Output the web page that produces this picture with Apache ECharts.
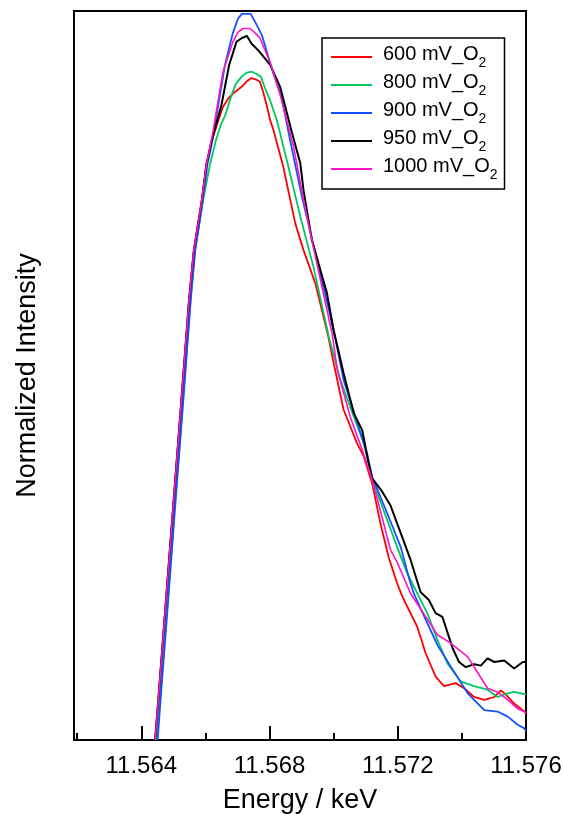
<!DOCTYPE html>
<html>
<head>
<meta charset="utf-8">
<script src="https://cdn.jsdelivr.net/npm/echarts@6/dist/echarts.min.js"></script>
<style>html,body{margin:0;padding:0;background:#fff;}#c{width:563px;height:814px;}</style>
</head>
<body>
<div id="c"></div>
<script>
// Series names (legend order)
const seriesNames = ['600 mV_O2', '800 mV_O2', '900 mV_O2', '950 mV_O2', '1000 mV_O2'];
// Tick labels (keV)
const majorTicks = [11.564, 11.568, 11.572, 11.576];
const minorTicks = [11.562, 11.566, 11.570, 11.574];

// [energy keV, normalized intensity]
const red600 = [
  [11.56443,0],[11.56453,0.055],[11.56477,0.192],[11.56501,0.329],[11.56525,0.466],[11.56549,0.604],
  [11.56564,0.672],[11.56589,0.741],[11.56603,0.789],[11.56620,0.823],[11.56626,0.830],[11.56639,0.848],
  [11.56654,0.868],[11.56673,0.881],[11.56692,0.889],[11.56713,0.896],[11.56730,0.904],[11.56744,0.908],
  [11.56758,0.906],[11.56770,0.903],[11.56780,0.889],[11.56791,0.871],[11.56802,0.850],[11.56812,0.837],
  [11.56843,0.786],[11.56880,0.709],[11.56906,0.672],[11.56943,0.626],[11.56982,0.556],[11.57000,0.517],
  [11.57031,0.453],[11.57073,0.407],[11.57094,0.389],[11.57120,0.352],[11.57146,0.297],[11.57172,0.250],
  [11.57198,0.215],[11.57214,0.197],[11.57261,0.155],[11.57287,0.119],[11.57318,0.087],[11.57344,0.074],
  [11.57381,0.078],[11.57407,0.071],[11.57438,0.059],[11.57470,0.055],[11.57501,0.059],[11.57522,0.068],
  [11.57538,0.062],[11.57563,0.050],[11.57595,0.039],[11.57600,0.036]
];
const green800 = [
  [11.56448,0],[11.56458,0.055],[11.56482,0.192],[11.56506,0.329],[11.56530,0.466],[11.56554,0.604],
  [11.56568,0.672],[11.56593,0.741],[11.56614,0.789],[11.56633,0.823],[11.56648,0.844],[11.56661,0.856],
  [11.56682,0.885],[11.56695,0.900],[11.56713,0.910],[11.56727,0.915],[11.56744,0.917],[11.56758,0.914],
  [11.56773,0.910],[11.56786,0.894],[11.56802,0.877],[11.56823,0.850],[11.56859,0.786],[11.56896,0.718],
  [11.56937,0.649],[11.56986,0.551],[11.57021,0.494],[11.57063,0.443],[11.57094,0.407],[11.57120,0.357],
  [11.57156,0.315],[11.57198,0.265],[11.57228,0.230],[11.57261,0.201],[11.57292,0.174],[11.57324,0.137],
  [11.57355,0.105],[11.57397,0.080],[11.57438,0.074],[11.57480,0.069],[11.57511,0.059],[11.57543,0.064],
  [11.57563,0.066],[11.57595,0.063],[11.57600,0.063]
];
const blue900 = [
  [11.56451,0],[11.56460,0.055],[11.56484,0.192],[11.56507,0.329],[11.56531,0.466],[11.56554,0.604],
  [11.56568,0.672],[11.56592,0.741],[11.56606,0.789],[11.56622,0.823],[11.56640,0.871],[11.56661,0.926],
  [11.56685,0.969],[11.56702,0.990],[11.56714,0.996],[11.56741,0.996],[11.56755,0.985],[11.56776,0.967],
  [11.56807,0.921],[11.56838,0.881],[11.56864,0.823],[11.56901,0.745],[11.56943,0.668],[11.56990,0.581],
  [11.57011,0.538],[11.57031,0.494],[11.57068,0.443],[11.57104,0.393],[11.57120,0.361],[11.57167,0.311],
  [11.57209,0.265],[11.57235,0.222],[11.57250,0.201],[11.57287,0.165],[11.57324,0.130],[11.57365,0.101],
  [11.57418,0.064],[11.57470,0.041],[11.57511,0.039],[11.57543,0.032],[11.57574,0.021],[11.57595,0.016],
  [11.57600,0.012]
];
const black950 = [
  [11.56443,0],[11.56453,0.055],[11.56477,0.192],[11.56501,0.329],[11.56525,0.466],[11.56549,0.604],
  [11.56564,0.672],[11.56589,0.741],[11.56603,0.789],[11.56620,0.823],[11.56650,0.871],[11.56674,0.926],
  [11.56697,0.958],[11.56714,0.963],[11.56729,0.966],[11.56744,0.955],[11.56765,0.946],[11.56802,0.926],
  [11.56833,0.896],[11.56870,0.833],[11.56896,0.791],[11.56906,0.754],[11.56932,0.686],[11.56979,0.613],
  [11.57000,0.562],[11.57031,0.503],[11.57063,0.448],[11.57089,0.425],[11.57109,0.380],[11.57120,0.359],
  [11.57151,0.341],[11.57177,0.322],[11.57209,0.284],[11.57240,0.247],[11.57271,0.203],[11.57297,0.192],
  [11.57318,0.174],[11.57339,0.169],[11.57371,0.126],[11.57391,0.107],[11.57412,0.100],[11.57438,0.104],
  [11.57459,0.102],[11.57480,0.112],[11.57501,0.107],[11.57532,0.109],[11.57563,0.098],[11.57590,0.107],
  [11.57600,0.107]
];
const magenta1000 = [
  [11.56443,0],[11.56453,0.055],[11.56477,0.192],[11.56501,0.329],[11.56525,0.466],[11.56549,0.604],
  [11.56564,0.672],[11.56589,0.741],[11.56603,0.789],[11.56623,0.833],[11.56655,0.917],[11.56686,0.958],
  [11.56702,0.971],[11.56717,0.976],[11.56739,0.976],[11.56755,0.970],[11.56770,0.963],[11.56802,0.929],
  [11.56833,0.885],[11.56875,0.814],[11.56906,0.741],[11.56943,0.663],[11.56995,0.558],[11.57011,0.508],
  [11.57052,0.443],[11.57089,0.398],[11.57120,0.357],[11.57151,0.306],[11.57177,0.261],[11.57198,0.244],
  [11.57240,0.201],[11.57287,0.169],[11.57324,0.144],[11.57365,0.133],[11.57418,0.114],[11.57444,0.096],
  [11.57480,0.071],[11.57511,0.066],[11.57543,0.055],[11.57574,0.043],[11.57595,0.039],[11.57600,0.037]
];

const seriesData = [red600, green800, blue900, black950, magenta1000];
const seriesColors = ['#ff0000', '#00c864', '#1450ff', '#000000', '#ff14c8'];
const seriesWidths = [1.8, 1.8, 1.8, 2, 1.6];

const FONT = "'Liberation Sans', Arial, sans-serif";
const chart = echarts.init(document.getElementById('c'), null, {renderer: 'canvas'});
const option = {
  animation: false,
  backgroundColor: '#fff',
  grid: {left: 74, right: 37, top: 11, bottom: 74, outerBoundsMode: 'none', containLabel: false,
         show: true, borderColor: '#000', borderWidth: 2, backgroundColor: 'transparent'},
  legend: {
    orient: 'vertical', left: 322, top: 38,
    padding: [6, 7, 7, 9], itemGap: 2, itemWidth: 41, itemHeight: 2, icon: 'rect',
    borderColor: '#000', borderWidth: 1.5, borderRadius: 0, backgroundColor: '#fff',
    data: seriesNames,
    formatter: n => '{n|' + n.slice(0, -1) + '}{s|' + n.slice(-1) + '}',
    textStyle: {
      fontFamily: FONT, color: '#000',
      rich: {
        n: {fontSize: 20, lineHeight: 26, verticalAlign: 'top', fontFamily: FONT, color: '#000', padding: [0, 0, 0, 6]},
        s: {fontSize: 14, lineHeight: 14, verticalAlign: 'bottom', fontFamily: FONT, color: '#000'}
      }
    }
  },
  xAxis: [{
    type: 'value', min: 11.5619, max: 11.576,
    name: 'Energy / keV', nameLocation: 'middle', nameGap: 47,
    nameTextStyle: {fontSize: 27, fontFamily: FONT, color: '#000'},
    axisLine: {show: true, lineStyle: {color: '#000', width: 2}},
    axisTick: {show: true, inside: true, length: 14, customValues: majorTicks, lineStyle: {color: '#000', width: 2}},
    axisLabel: {show: true, customValues: majorTicks, formatter: v => v.toFixed(3), fontSize: 24, fontFamily: FONT, color: '#000', margin: 14, showMinLabel: true, showMaxLabel: true},
    splitLine: {show: false}
  }, {
    type: 'value', min: 11.5619, max: 11.576, position: 'bottom',
    axisLine: {show: false},
    axisTick: {show: true, inside: true, length: 7, customValues: minorTicks, lineStyle: {color: '#000', width: 2}},
    axisLabel: {show: false},
    splitLine: {show: false}
  }],
  yAxis: {
    type: 'value', min: 0, max: 1,
    name: 'Normalized Intensity', nameLocation: 'middle', nameGap: 33,
    nameTextStyle: {fontSize: 27, fontFamily: FONT, color: '#000'},
    axisLine: {show: true, lineStyle: {color: '#000', width: 2}},
    axisTick: {show: false}, axisLabel: {show: false}, splitLine: {show: false}
  },
  series: seriesNames.map((name, i) => ({
    name: name, type: 'line', xAxisIndex: 0, data: seriesData[i],
    symbol: 'none', smooth: false, color: seriesColors[i],
    lineStyle: {color: seriesColors[i], width: seriesWidths[i]}
  }))
};
chart.setOption(option);
</script>
</body>
</html>
